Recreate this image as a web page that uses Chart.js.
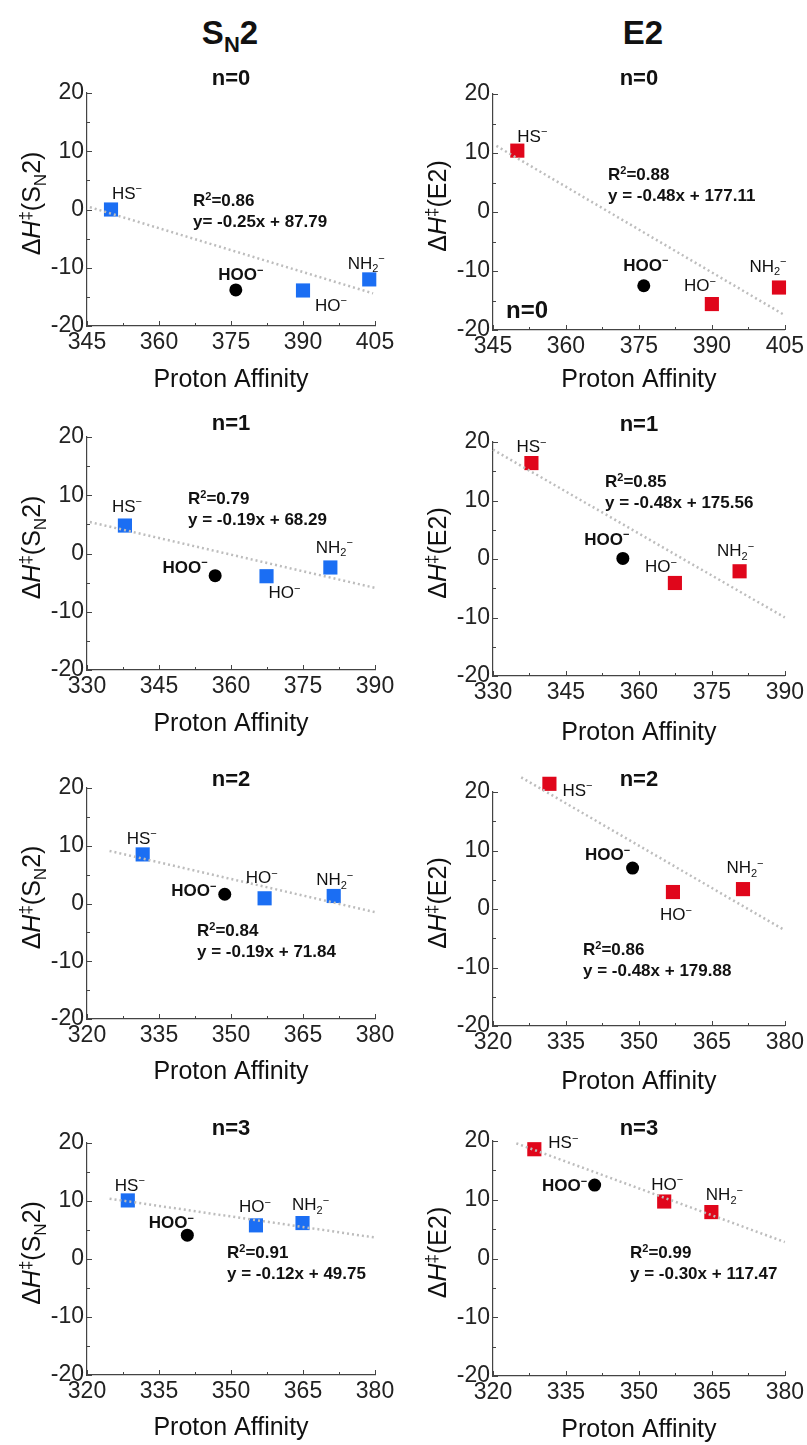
<!DOCTYPE html>
<html>
<head>
<meta charset="utf-8">
<script src="https://cdn.jsdelivr.net/npm/chart.js@4.4.0/dist/chart.umd.min.js"></script>
<style>
  html, body { margin: 0; padding: 0; background: #fff; }
  body { width: 807px; height: 1445px; position: relative; overflow: hidden; font-family: "Liberation Sans", Arial, sans-serif; }
  .col-head { position: absolute; top: 14px; width: 140px; text-align: center; font-weight: bold; font-size: 33px; line-height: 38px; color: #111; }
  .col-head sub { font-size: 22px; vertical-align: baseline; position: relative; top: 8px; }
  canvas { position: absolute; }
</style>
</head>
<body>
<div class="col-head" style="left:160px">S<sub>N</sub>2</div>
<div class="col-head" style="left:573px">E2</div>
<script>
(function () {
  const FONT = '"Liberation Sans", Arial, Helvetica, sans-serif';
  const BLUE = "#1b6ef3";
  const RED = "#e0061b";

  // ---- data ----
  const waterCounts = ["n=0", "n=1", "n=2", "n=3"];
  const anions = ["HS", "HOO", "HO", "NH2"];
  // proton affinity of HS-, HOO-, HO-, NH2- for each n
  const protonAffinity = [
    [350.0, 376.0, 390.0, 403.8],
    [337.9, 356.7, 367.4, 380.7],
    [331.6, 348.7, 357.0, 371.4],
    [328.5, 340.9, 355.2, 364.9]
  ];
  const dhSN2 = [
    [0.0, -13.8, -13.9, -12.0],
    [4.8, -3.8, -3.9, -2.4],
    [8.5, 1.6, 0.9, 1.3],
    [10.1, 4.1, 5.8, 6.2]
  ];
  const dhE2 = [
    [10.4, -12.5, -15.6, -12.8],
    [16.4, 0.1, -4.1, -2.1],
    [21.4, 7.0, 2.9, 3.4],
    [18.6, 12.5, 9.7, 7.9]
  ];
  // dotted fit line end points [x, y]
  const fitSN2 = [
    [[345.6, 0.4], [404.6, -14.4]],
    [[330.6, 5.4], [390.0, -5.9]],
    [[324.7, 9.1], [380.0, -1.5]],
    [[324.7, 10.4], [380.0, 3.7]]
  ];
  const fitE2 = [
    [[345.7, 11.2], [405.0, -17.5]],
    [[330.0, 18.7], [390.0, -10.0]],
    [[325.8, 22.5], [379.7, -3.5]],
    [[324.8, 19.6], [380.0, 2.8]]
  ];
  const r2SN2 = ["0.86", "0.79", "0.84", "0.91"];
  const r2E2 = ["0.88", "0.85", "0.86", "0.99"];
  const eqSN2 = ["y= -0.25x + 87.79", "y = -0.19x + 68.29", "y = -0.19x + 71.84", "y = -0.12x + 49.75"];
  const eqE2 = ["y = -0.48x + 177.11", "y = -0.48x + 175.56", "y = -0.48x + 179.88", "y = -0.30x + 117.47"];
  const xRanges = [[345, 405], [330, 390], [320, 380], [320, 380]];
  const yRange = [-20, 20];

  // ---- layout (pixels) ----
  const plotBoxes = {
    SN2: [[87, 93, 375, 326], [87, 437, 375, 670], [87, 788, 375, 1019], [87, 1143, 375, 1375]],
    E2:  [[493, 94, 785, 330], [493, 442, 785, 676], [493, 792, 785, 1026], [493, 1141, 785, 1376]]
  };
  const titleGap = { SN2: [16, 15, 10, 16], E2: [17, 19, 14, 14] };
  const xTitleGap = { SN2: [54, 54, 53, 53], E2: [50, 57, 56, 54] };
  const eqPos = {
    SN2: [[106, 107], [101, 61], [110, 142], [140, 109]],
    E2:  [[115, 80], [112, 39], [90, 157], [137, 111]]
  };
  const labelOffsets = {
    SN2: [
      [[16, -17], [5, -16], [28, 14], [-3, -17]],
      [[2, -20], [-30, -9], [18, 16], [4, -21]],
      [[-1, -17], [-31, -4], [-3, -21], [1, -17]],
      [[2, -16], [-16, -13], [-1, -19], [8, -19]]
    ],
    E2: [
      [[15, -15], [2, -21], [-12, -19], [-11, -22]],
      [[0, -17], [-16, -20], [-14, -17], [-4, -21]],
      [[28, 6], [-25, -14], [3, 22], [2, -22]],
      [[29, -7], [-30, 0], [3, -18], [13, -18]]
    ]
  };

  const labelParts = {
    HS: [{ t: "HS" }, { t: "\u2212", pos: "sup" }],
    HOO: [{ t: "HOO", bold: true }, { t: "\u2212", pos: "sup", bold: true }],
    HO: [{ t: "HO" }, { t: "\u2212", pos: "sup" }],
    NH2: [{ t: "NH" }, { t: "2", pos: "sub" }, { t: "\u2212", pos: "sup" }]
  };
  const yTitleParts = {
    SN2: [{ t: "\u0394" }, { t: "H", italic: true }, { t: "\u2021", pos: "sup" }, { t: "(S" }, { t: "N", pos: "sub" }, { t: "2)" }],
    E2: [{ t: "\u0394" }, { t: "H", italic: true }, { t: "\u2021", pos: "sup" }, { t: "(E2)" }]
  };

  function drawRich(ctx, parts, x, y, size, align) {
    const fontOf = p => (p.italic ? "italic " : "") + (p.bold ? "bold " : "") +
      (p.pos ? Math.round(size * 0.66) : size) + "px " + FONT;
    const widths = parts.map(p => { ctx.font = fontOf(p); return ctx.measureText(p.t).width; });
    const total = widths.reduce((s, v) => s + v, 0);
    let cx = align === "center" ? x - total / 2 : x;
    const base = y + size * 0.36;
    ctx.textAlign = "left";
    ctx.textBaseline = "alphabetic";
    parts.forEach((p, i) => {
      ctx.font = fontOf(p);
      const dy = p.pos === "sup" ? -size * 0.38 : p.pos === "sub" ? size * 0.22 : 0;
      ctx.fillText(p.t, cx, base + dy);
      cx += widths[i];
    });
  }

  // inward major + minor tick marks
  const tickMarks = {
    id: "tickMarks",
    beforeDatasetsDraw(chart) {
      const { ctx, chartArea: a, scales: { x, y } } = chart;
      ctx.save();
      ctx.strokeStyle = "#444";
      ctx.lineWidth = 1;
      ctx.beginPath();
      const xs = (x.max - x.min) / 8;
      for (let k = 0; k <= 8; k++) {
        const px = Math.round(x.getPixelForValue(x.min + k * xs)) + 0.5;
        const len = k % 2 === 0 ? 5 : 3;
        ctx.moveTo(px, a.bottom);
        ctx.lineTo(px, a.bottom - len);
      }
      const ys = (y.max - y.min) / 8;
      for (let k = 0; k <= 8; k++) {
        const py = Math.round(y.getPixelForValue(y.min + k * ys)) + 0.5;
        const len = k % 2 === 0 ? 5 : 3;
        ctx.moveTo(a.left, py);
        ctx.lineTo(a.left + len, py);
      }
      ctx.stroke();
      ctx.restore();
    }
  };

  function makePanel(kind, n) {
    const [L, T, R, B] = plotBoxes[kind][n];
    const colX = kind === "SN2" ? 0 : 403;
    const w = kind === "SN2" ? 403 : 404;
    const padTop = 60, yAxisW = 70;
    const xAxisH = xTitleGap[kind][n] + 19;
    const h = padTop + (B - T) + xAxisH;

    const canvas = document.createElement("canvas");
    canvas.width = w;
    canvas.height = h;
    canvas.style.left = colX + "px";
    canvas.style.top = (T - padTop) + "px";
    canvas.style.width = w + "px";
    canvas.style.height = h + "px";
    document.body.appendChild(canvas);

    const pa = protonAffinity[n];
    const dh = kind === "SN2" ? dhSN2[n] : dhE2[n];
    const fit = kind === "SN2" ? fitSN2[n] : fitE2[n];
    const r2 = kind === "SN2" ? r2SN2[n] : r2E2[n];
    const eq = kind === "SN2" ? eqSN2[n] : eqE2[n];
    const color = kind === "SN2" ? BLUE : RED;

    const decor = {
      id: "decor",
      afterDatasetsDraw(chart) {
        const { ctx, chartArea: a, scales: { x, y } } = chart;
        ctx.save();
        ctx.fillStyle = "#111";
        drawRich(ctx, [{ t: waterCounts[n], bold: true }], (a.left + a.right) / 2, a.top - titleGap[kind][n], 22, "center");

        ctx.save();
        ctx.translate(a.left - 56, (a.top + a.bottom) / 2 - 6);
        ctx.rotate(-Math.PI / 2);
        drawRich(ctx, yTitleParts[kind], 0, 0, 25, "center");
        ctx.restore();

        anions.forEach((an, i) => {
          const [dx, dy] = labelOffsets[kind][n][i];
          drawRich(ctx, labelParts[an], x.getPixelForValue(pa[i]) + dx, y.getPixelForValue(dh[i]) + dy, 17, "center");
        });

        const [ex, ey] = eqPos[kind][n];
        drawRich(ctx, [{ t: "R", bold: true }, { t: "2", bold: true, pos: "sup" }, { t: "=" + r2, bold: true }], a.left + ex, a.top + ey, 17, "left");
        drawRich(ctx, [{ t: eq, bold: true }], a.left + ex, a.top + ey + 21, 17, "left");

        if (kind === "E2" && n === 0) {
          // stray panel tag inside the first E2 plot
          drawRich(ctx, [{ t: waterCounts[0], bold: true }], a.left + 34, a.top + 215, 24, "center");
        }
        ctx.restore();
      }
    };

    new Chart(canvas, {
      type: "scatter",
      data: {
        datasets: [
          {
            data: fit.map(p => ({ x: p[0], y: p[1] })),
            showLine: true,
            borderColor: "#bdbdbd",
            borderWidth: 2.5,
            borderDash: [2, 3],
            pointRadius: 0,
            clip: false
          },
          {
            data: [{ x: pa[1], y: dh[1] }],
            pointStyle: "circle",
            pointRadius: 6.5,
            backgroundColor: "#000",
            borderColor: "#000",
            borderWidth: 0,
            clip: false
          },
          {
            data: [0, 2, 3].map(i => ({ x: pa[i], y: dh[i] })),
            pointStyle: "rect",
            pointRadius: 10,
            backgroundColor: color,
            borderColor: color,
            borderWidth: 0,
            clip: false
          }
        ]
      },
      options: {
        responsive: false,
        animation: false,
        devicePixelRatio: 1,
        events: [],
        layout: { padding: { top: padTop, left: L - colX - yAxisW, right: colX + w - R, bottom: 0 } },
        plugins: { legend: { display: false }, tooltip: { enabled: false }, title: { display: false } },
        scales: {
          x: {
            type: "linear",
            min: xRanges[n][0],
            max: xRanges[n][1],
            ticks: { stepSize: 15, padding: 3, color: "#222", font: { family: FONT, size: 23 }, maxRotation: 0, autoSkip: false },
            grid: { display: false, drawTicks: false },
            border: { display: true, color: "#444", width: 1.2 },
            title: { display: true, text: "Proton Affinity", color: "#111", font: { family: FONT, size: 25 }, padding: { top: 0, bottom: 4 } },
            afterFit: s => { s.height = xAxisH; }
          },
          y: {
            type: "linear",
            min: yRange[0],
            max: yRange[1],
            ticks: { stepSize: 10, padding: 3, color: "#222", font: { family: FONT, size: 23 } },
            grid: { display: false, drawTicks: false },
            border: { display: true, color: "#444", width: 1.2 },
            afterFit: s => { s.width = yAxisW; }
          }
        }
      },
      plugins: [tickMarks, decor]
    });
  }

  for (let n = 0; n < 4; n++) {
    makePanel("SN2", n);
    makePanel("E2", n);
  }
})();
</script>
</body>
</html>
